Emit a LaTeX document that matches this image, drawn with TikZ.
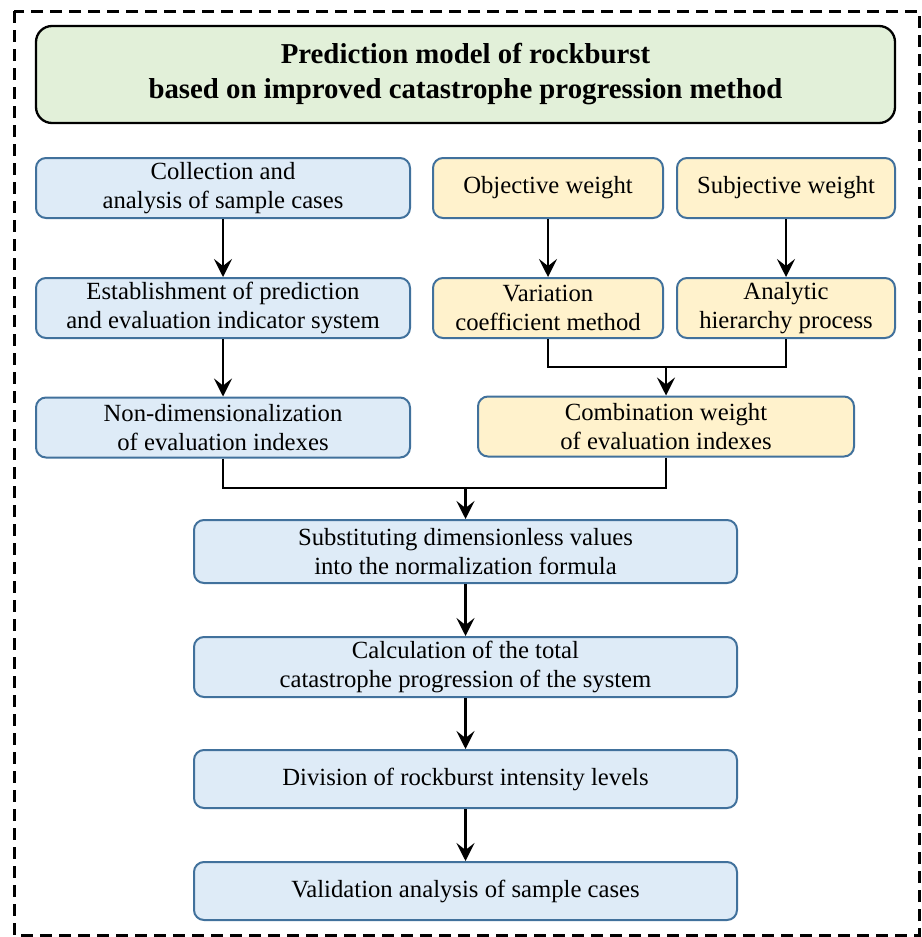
\documentclass[tikz,border=0pt]{standalone}
\usepackage{fontspec}
\setmainfont{Liberation Serif}
\usetikzlibrary{arrows.meta}
\definecolor{boxblue}{RGB}{222,235,247}
\definecolor{boxyellow}{RGB}{255,242,204}
\definecolor{boxgreen}{RGB}{226,240,217}
\definecolor{boxline}{RGB}{65,113,156}
\begin{document}
\begin{tikzpicture}[x=1pt, y=-1pt,
	box/.style={draw=boxline, line width=2pt, rounded corners=10pt, inner sep=0pt,
		minimum height=60pt, align=center, font=\fontsize{24.7}{29}\selectfont},
	bluebox/.style={box, fill=boxblue},
	yellowbox/.style={box, fill=boxyellow},
	arr/.style={line width=2.3pt, -{Stealth[length=18pt, width=18pt, inset=7pt]}},
	link/.style={line width=2.3pt}]
	\useasboundingbox (0,0) rectangle (921,937);
	\draw[line width=3pt, dash pattern=on 12pt off 7pt] (14,11) rectangle (919,935);

	\node[box, fill=boxgreen, draw=black, line width=2.3pt, rounded corners=16pt, minimum width=859pt, minimum height=97pt,
		font=\fontsize{28.8}{35}\selectfont\bfseries] (title) at (465.5,74.5)
		{Prediction model of rockburst\\based on improved catastrophe progression method};

	\node[bluebox, minimum width=374pt] (coll) at (223,188) {Collection and\\analysis of sample cases};
	\node[yellowbox, minimum width=230pt] (obj) at (548,188) {Objective weight};
	\node[yellowbox, minimum width=218pt] (subj) at (786,188) {Subjective weight};

	\node[bluebox, minimum width=374pt] (estab) at (223,308) {Establishment of prediction\\and evaluation indicator system};
	\node[yellowbox, minimum width=230pt] (vari) at (548,308) {Variation\\coefficient method};
	\node[yellowbox, minimum width=218pt] (ahp) at (786,308) {Analytic\\hierarchy process};

	\node[bluebox, minimum width=374pt] (nondim) at (223,427.5) {Non-dimensionalization\\of evaluation indexes};
	\node[yellowbox, minimum width=376pt] (comb) at (666,426.5) {Combination weight\\of evaluation indexes};

	\node[bluebox, minimum width=543pt, minimum height=63pt] (subst) at (465.5,551.5) {Substituting dimensionless values\\into the normalization formula};
	\node[bluebox, minimum width=543pt] (calc) at (465.5,667) {Calculation of the total\\catastrophe progression of the system};
	\node[bluebox, minimum width=543pt, minimum height=58pt] (div) at (465.5,779) {Division of rockburst intensity levels};
	\node[bluebox, minimum width=543pt, minimum height=58pt] (valid) at (465.5,891) {Validation analysis of sample cases};

	\coordinate (j1) at (666,367);
	\coordinate (j2) at (465.5,488);

	\draw[arr] (coll) -- (estab);
	\draw[arr] (estab) -- (nondim);
	\draw[arr] (obj) -- (vari);
	\draw[arr] (subj) -- (ahp);
	\draw[link] (vari.south) |- (j1);
	\draw[link] (ahp.south) |- (j1);
	\draw[arr] (j1) -- (comb.north);
	\draw[link] (nondim.south) |- (j2);
	\draw[link] (comb.south) |- (j2);
	\draw[arr] (j2) -- (subst.north);
	\draw[arr] (subst) -- (calc);
	\draw[arr] (calc) -- (div);
	\draw[arr] (div) -- (valid);

\end{tikzpicture}
\end{document}
